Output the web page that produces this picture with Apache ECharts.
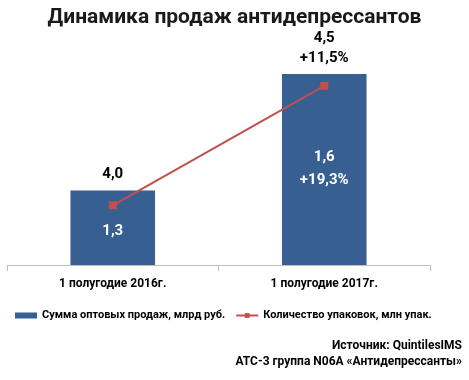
<!DOCTYPE html>
<html><head><meta charset="utf-8">
<script src="https://cdn.jsdelivr.net/npm/echarts@6/dist/echarts.min.js"></script>
<style>html,body{margin:0;padding:0;background:#fff}#c{width:469px;height:380px}</style>
</head><body><div id="c"></div>
<script>
const categories = ['1 полугодие 2016г.', '1 полугодие 2017г.'];
const salesValues = [4.0, 4.5];
const salesLabels = ['4,0', '4,5\n+11,5%'];
const packValues = [1.3, 1.6];
const packLabels = ['1,3', '1,6\n+19,3%'];
const seriesNames = ['Сумма оптовых продаж, млрд руб.', 'Количество упаковок, млн упак.'];
const titleText = 'Динамика продаж антидепрессантов';
const sourceLines = ['Источник: QuintilesIMS', 'АТС-3 группа N06A «Антидепрессанты»'];

const FONT = 'Roboto';
const packLabelDist = [10, 56];
const chart = echarts.init(document.getElementById('c'));
chart.setOption({
  animation: false,
  title: { text: titleText, left: 'center', top: 2,
    textStyle: { fontFamily: FONT, fontWeight: 'bold', fontSize: 21, color: '#1a1a1a' } },
  grid: { left: 7, right: 39, top: 39, bottom: 115, containLabel: false },
  legend: {
    left: 10, top: 305, itemGap: 10, itemWidth: 22, itemHeight: 6,
    textStyle: { fontFamily: FONT, fontWeight: 'bold', fontSize: 11, color: '#000' },
    data: [
      { name: seriesNames[0], icon: 'rect' },
      { name: seriesNames[1] }
    ]
  },
  xAxis: {
    type: 'category', data: categories,
    axisLine: { lineStyle: { color: '#BFBFBF', width: 1 } },
    axisTick: { show: true, length: 6, lineStyle: { color: '#BFBFBF' } },
    axisLabel: { fontFamily: FONT, fontWeight: 'bold', fontSize: 12, color: '#000', margin: 13 }
  },
  yAxis: [
    { type: 'value', min: 3.68, max: 4.65, show: false, splitLine: { show: false } },
    { type: 'value', min: 1.15, max: 1.7175, show: false, splitLine: { show: false } }
  ],
  series: [
    { name: seriesNames[0], type: 'bar', yAxisIndex: 0, barWidth: '40%',
      itemStyle: { color: '#385F92' },
      data: salesValues.map((v) => ({ value: v })),
      label: { show: true, position: 'top', distance: 6,
        formatter: p => salesLabels[p.dataIndex],
        fontFamily: FONT, fontWeight: 'bold', fontSize: 15, lineHeight: 20, color: '#000' } },
    { name: seriesNames[1], type: 'line', yAxisIndex: 1,
      symbol: 'rect', symbolSize: 8,
      lineStyle: { color: '#C0504D', width: 2 },
      itemStyle: { color: '#C0504D' },
      data: packValues.map((v, i) => ({ value: v, label: { distance: packLabelDist[i] } })),
      label: { show: true, position: 'bottom',
        formatter: p => packLabels[p.dataIndex],
        fontFamily: FONT, fontWeight: 'bold', fontSize: 15, lineHeight: 23, color: '#fff' } }
  ],
  graphic: [
    { type: 'text', right: 7, top: 340, style: { text: sourceLines[0], fontFamily: FONT, fontWeight: 'bold', fontSize: 12, fill: '#000' } },
    { type: 'text', right: 7, top: 356, style: { text: sourceLines[1], fontFamily: FONT, fontWeight: 'bold', fontSize: 12, fill: '#000' } }
  ]
});
</script></body></html>
